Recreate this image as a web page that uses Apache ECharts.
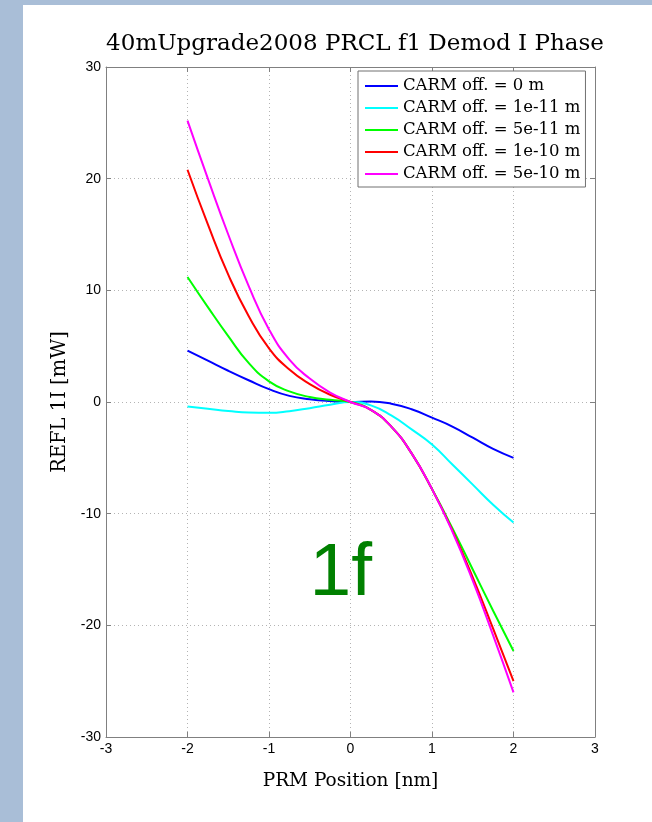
<!DOCTYPE html>
<html>
<head>
<meta charset="utf-8">
<title>40mUpgrade2008 PRCL f1 Demod I Phase</title>
<script src="https://cdn.jsdelivr.net/npm/echarts@6/dist/echarts.min.js"></script>
<style>
  html, body { margin: 0; padding: 0; background: #fff; }
  #chart { width: 652px; height: 822px; }
</style>
</head>
<body>
<div id="chart"></div>
<script>
// PRM position [nm]
const positions = [-2, -1.75, -1.5, -1.25, -1, -0.75, -0.5, -0.25, 0, 0.25, 0.5, 0.75, 1, 1.25, 1.5, 1.75, 2]

// REFL 1I [mW] for each CARM offset
const carm0 = [4.6, 3.7, 2.8, 1.95, 1.15, 0.55, 0.25, 0.08, 0, 0.05, -0.15, -0.65, -1.4, -2.2, -3.2, -4.2, -5.0]
const carm1e11 = [-0.4, -0.6, -0.8, -0.95, -0.97, -0.82, -0.55, -0.25, 0, -0.3, -1.2, -2.45, -3.8, -5.6, -7.4, -9.2, -10.8]
const carm5e11 = [11.2, 8.5, 5.9, 3.5, 1.85, 0.95, 0.45, 0.2, 0, -0.7, -2.2, -4.6, -7.8, -11.3, -15.0, -18.7, -22.3]
const carm1e10 = [20.8, 15.9, 11.4, 7.7, 4.8, 2.9, 1.6, 0.65, 0, -0.7, -2.2, -4.6, -7.8, -11.5, -15.7, -20.3, -25.0]
const carm5e10 = [25.2, 20.0, 15.0, 10.4, 6.5, 3.8, 2.1, 0.85, 0, -0.7, -2.2, -4.6, -7.8, -11.6, -16.0, -20.9, -26.0]

const seriesNames = ['CARM off. = 0 m', 'CARM off. = 1e-11 m', 'CARM off. = 5e-11 m', 'CARM off. = 1e-10 m', 'CARM off. = 5e-10 m']
const seriesData = [carm0, carm1e11, carm5e11, carm1e10, carm5e10]
const seriesColors = ['#0000ff', '#00ffff', '#00ff00', '#ff0000', '#ff00ff']

const xRange = [-3, 3]
const yRange = [-30, 30]

const serif = 'DejaVu Serif'
const sans = 'Liberation Sans'
const axisGray = '#808080'
const frameBlue = '#a9bed7'

function makeAxis(type, range, interval, position, showLabels) {
  return {
    type: 'value',
    position: position,
    min: range[0],
    max: range[1],
    interval: interval,
    axisLine: { show: true, onZero: false, lineStyle: { color: axisGray, width: 1 } },
    axisTick: { show: true, inside: true, length: 5, lineStyle: { color: axisGray } },
    axisLabel: {
      show: showLabels,
      color: '#000',
      fontFamily: sans,
      fontSize: 14,
      margin: type === 'x' ? 5 : 5
    },
    splitLine: {
      show: showLabels,
      lineStyle: { color: '#b4b4b4', type: [1, 3], width: 1 }
    }
  }
}

const chart = echarts.init(document.getElementById('chart'))

const xMain = makeAxis('x', xRange, 1, 'bottom', true)
xMain.name = 'PRM Position [nm]'
xMain.nameLocation = 'middle'
xMain.nameGap = 35
xMain.nameTextStyle = { fontFamily: serif, fontSize: 18.5, color: '#000' }

const yMain = makeAxis('y', yRange, 10, 'left', true)
yMain.name = 'REFL 1I [mW]'
yMain.nameLocation = 'middle'
yMain.nameGap = 35
yMain.nameTextStyle = { fontFamily: serif, fontSize: 19.5, color: '#000' }

const frame = [
  { type: 'rect', z: -10, silent: true, shape: { x: 0, y: 0, width: 23, height: 822 }, style: { fill: frameBlue } },
  { type: 'rect', z: -10, silent: true, shape: { x: 0, y: 0, width: 652, height: 5 }, style: { fill: frameBlue } }
]

chart.setOption({
  animation: false,
  backgroundColor: '#fff',
  title: {
    text: '40mUpgrade2008 PRCL f1 Demod I Phase',
    left: 350,
    textAlign: 'center',
    top: 28,
    textStyle: { fontFamily: serif, fontSize: 23, fontWeight: 'normal', color: '#000' }
  },
  grid: { left: 106, right: 57, top: 67, bottom: 85, containLabel: false },
  xAxis: [xMain, makeAxis('x', xRange, 1, 'top', false)],
  yAxis: [yMain, makeAxis('y', yRange, 10, 'right', false)],
  legend: {
    orient: 'vertical',
    left: 358,
    top: 71,
    icon: 'rect',
    itemWidth: 33,
    itemHeight: 2,
    itemGap: 2,
    padding: [5, 5, 3, 7],
    borderColor: '#707070',
    borderWidth: 1,
    backgroundColor: '#fff',
    textStyle: { fontFamily: serif, fontSize: 16.5, color: '#000', lineHeight: 20 },
    data: seriesNames
  },
  graphic: frame,
  series: seriesNames.map((name, i) => ({
    name: name,
    type: 'line',
    xAxisIndex: 0,
    yAxisIndex: 0,
    smooth: 0.5,
    showSymbol: false,
    data: positions.map((x, j) => [x, seriesData[i][j]]),
    lineStyle: { width: 2, color: seriesColors[i] },
    itemStyle: { color: seriesColors[i] }
  }))
})

// "1f" annotation anchored at a data coordinate
const labelAt = chart.convertToPixel({ xAxisIndex: 0, yAxisIndex: 0 }, [-0.12, -18.8])
chart.setOption({
  graphic: frame.concat([
    {
      type: 'text',
      x: labelAt[0],
      y: labelAt[1],
      style: {
        text: '1f',
        fill: '#008000',
        font: '75px "Liberation Sans"',
        textAlign: 'center',
        textVerticalAlign: 'bottom'
      }
    }
  ])
})
</script>
</body>
</html>
